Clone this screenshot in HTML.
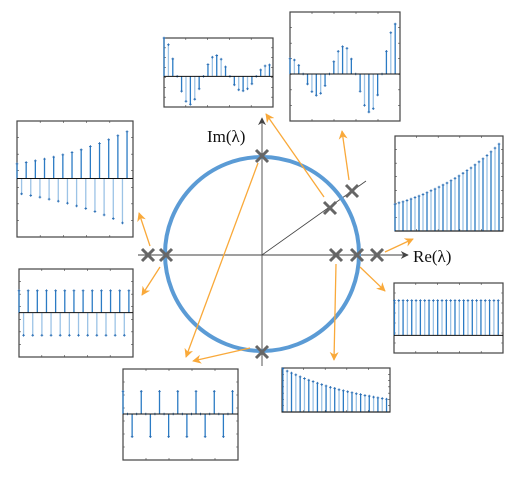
<!DOCTYPE html>
<html><head><meta charset="utf-8"><style>
html,body{margin:0;padding:0;background:#fff;width:512px;height:478px;overflow:hidden}
svg{display:block}
</style></head><body>
<svg id="fig" width="512" height="478" viewBox="0 0 512 478" xmlns="http://www.w3.org/2000/svg">
<defs>
<marker id="oh" viewBox="0 0 10 10" refX="9" refY="5" markerWidth="9" markerHeight="9" orient="auto" markerUnits="userSpaceOnUse">
<path d="M0,0 L10,5 L0,10 L3,5 Z" fill="#f9a93a"/></marker>
<marker id="gh" viewBox="0 0 10 10" refX="9" refY="5" markerWidth="8" markerHeight="8" orient="auto" markerUnits="userSpaceOnUse">
<path d="M0,0 L10,5 L0,10 L3,5 Z" fill="#444"/></marker>
</defs>
<g id="plane">
<line x1="138" y1="255" x2="408" y2="255" stroke="#666" stroke-width="1.2" marker-end="url(#gh)"/>
<line x1="262" y1="366" x2="262" y2="118" stroke="#555" stroke-width="1" marker-end="url(#gh)"/>
<line x1="262" y1="255" x2="366" y2="181" stroke="#444" stroke-width="0.8"/>
<circle cx="262" cy="254" r="97" fill="none" stroke="#5b9bd5" stroke-width="4"/>
<text x="413" y="262" font-family="Liberation Serif, serif" font-size="17" fill="#111">Re(λ)</text>
<text x="207" y="142" font-family="Liberation Serif, serif" font-size="17" fill="#111">Im(λ)</text>
</g>
<g id="arrows"></g>
<g id="crosses"></g>
<g id="insets"></g>
</svg>
<script>
// eigenvalue markers (pixel positions of each lambda in the plane)
const crossX = [148,166,336,357,377,262,262,330,352];
const crossY = [255,255,255,255,255,156,352,208,191];

// inset data series
const seriesTopLeft = [114,94,52,0,-44,-74,-83,-68,-37,0,35,57,62,51,28,0,-25,-40,-43,-37,-22,0,19,31,34];
const seriesTopRight = [46,42,26,0,-30,-53,-64,-58,-35,0,37,68,82,77,45,0,-52,-94,-114,-104,-63,0,68,124,150];
const seriesRight = [80,84,87,91,95,100,104,109,114,120,125,131,137,143,150,157,164,172,180,188,197,206,215,225,236,247,259];
const seriesLeft = [44,-46,48,-51,53,-56,58,-62,64,-68,71,-74,78,-82,86,-90,96,-99,105,-109,116,-120,128,-133,140];
const seriesLeftLower = [66,-68,66,-68,66,-68,66,-68,66,-68,66,-68,66,-68,66,-68,66,-68,66,-68,66,-68,66,-68,66];
const seriesBottomLeft = [68,0,-68,0,68,0,-68,0,68,0,-68,0,68,0,-68,0,68,0,-68,0,68,0,-68,0,68];
const seriesBottomRight = [128,121,115,110,104,99,94,90,85,81,77,73,70,66,63,60,57,54,52,49,47,44,42,40,38];
const seriesRightLower = [105,105,105,105,105,105,105,105,105,105,105,105,105,105,105,105,105,105,105,105,105,105,105,105,105];

const NS = "http://www.w3.org/2000/svg";
function mk(tag, attrs, parent){const e=document.createElementNS(NS,tag);for(const k in attrs)e.setAttribute(k,attrs[k]);parent.appendChild(e);return e;}

// crosses
const cg=document.getElementById('crosses');
for(let i=0;i<crossX.length;i++){
  const g=mk('g',{},cg);
  
  
  const x=crossX[i],y=crossY[i],s=6;
  mk('path',{d:`M${x-s},${y-s}L${x+s},${y+s}M${x-s},${y+s}L${x+s},${y-s}`,stroke:'#666',"stroke-width":3,fill:'none'},g);
}

// arrows
const arrowsDef=[[324,197,266,114],[349,180,342,131],[385,252,413,239],[360,267,385,291],[336,264,334,360],[250,348,193,361],[258,163,186,357],[150,246,139,213],[160,267,142,295]];
const ag=document.getElementById('arrows');
arrowsDef.forEach(a=>{
  const l=mk('line',{x1:a[0],y1:a[1],x2:a[2],y2:a[3],stroke:'#f9a93a',"stroke-width":1.3,"marker-end":"url(#oh)"},ag);
  
  
});

// insets
const ig=document.getElementById('insets');
function inset(name,fx,fy,fw,fh,ymin,ymax,xmax,vals,x0){
  const g=mk('g',{},ig);
  
  
  const sx=n=>fx+(n+(x0||0))/xmax*fw;
  const sy=v=>fy+(ymax-v)/(ymax-ymin)*fh;
  mk('rect',{x:fx,y:fy,width:fw,height:fh,fill:'#fff',stroke:'#444',"stroke-width":1.2},g);
  // ticks
  for(let i=1;i<5;i++){const tx=fx+fw*i/5;mk('path',{d:`M${tx},${fy}v2M${tx},${fy+fh}v-2`,stroke:'#444',"stroke-width":0.6},g);}
  for(let i=1;i<7;i++){const ty=fy+fh*i/7;mk('path',{d:`M${fx},${ty}h2M${fx+fw},${ty}h-2`,stroke:'#444',"stroke-width":0.6},g);}
  const z=sy(0);
  vals.forEach((v,n)=>{
    const x=sx(n),y=sy(v);
    const st=mk('line',{x1:x,y1:z,x2:x,y2:y,stroke:n%2?'#9cc3e6':'#2b7bc4',"stroke-width":1.3},g);
    
    
    mk('path',{d:`M${x-1.3},${y}h2.6M${x},${y-1.3}v2.6`,stroke:'#2b6fb5',"stroke-width":0.9},g);
  });
  const bl=mk('line',{x1:fx,y1:z,x2:fx+fw,y2:z,stroke:'#111',"stroke-width":1},g);
  
  
}
inset('inset-top-left',164,38,109,69,-91,114,24.8,seriesTopLeft);
inset('inset-top-right',290,12,110,109,-141,186,25.1,seriesTopRight);
inset('inset-right',395,136,108,95,0,283,27,seriesRight);
inset('inset-left',17,121,116,116,-175,172,25.3,seriesLeft);
inset('inset-left-lower',19,269,114,88,-133,131,24.9,seriesLeftLower);
inset('inset-bottom-left',123,369,115,91,-138,135,25.2,seriesBottomLeft);
inset('inset-bottom-right',282,368,108,44,0,130,25,seriesBottomRight,0.2);
inset('inset-right-lower',394,283,109,70,-53,158,25.2,seriesRightLower,0.1);
</script>
</body></html>
